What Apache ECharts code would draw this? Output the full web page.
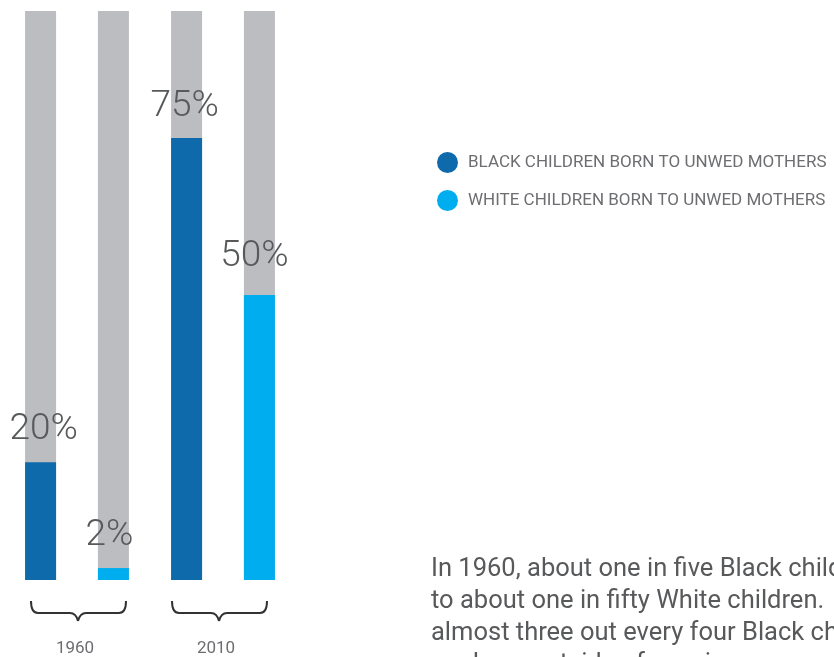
<!DOCTYPE html>
<html>
<head>
<meta charset="utf-8">
<script src="https://cdn.jsdelivr.net/npm/echarts@6/dist/echarts.min.js"></script>
<style>
  html, body { margin: 0; padding: 0; background: #ffffff; }
  #chart { width: 834px; height: 657px; }
</style>
</head>
<body>
<div id="chart"></div>
<script>
// ---- data ----
const years = ['1960', '2010'];
const seriesNames = ['BLACK CHILDREN BORN TO UNWED MOTHERS', 'WHITE CHILDREN BORN TO UNWED MOTHERS'];
const blackValues = [20.7, 77.7];   // bar heights as drawn (percent)
const whiteValues = [2.1, 50.1];
const blackLabels = ['20%', '75%'];
const whiteLabels = ['2%', '50%'];
const paragraphLines = [
  'In 1960, about one in five Black children were born to unwed mothers, compared',
  'to about one in fifty White children.  Today,',
  'almost three out every four Black children',
  'are born outside of marriage.'
];

// ---- style ----
const FONT = 'Roboto, "Noto Sans", sans-serif';
const DARK_BLUE = '#0e6aab';
const LIGHT_BLUE = '#00adee';
const GRAY = '#bcbdc1';
const TEXT = '#58595b';
const groupShift = [1, -4];                 // visual offset of braces / year labels
const blackLabelOffset = [[3, 0], [-2, 1]]; // label nudges [dx, dy]
const whiteLabelOffset = [[-4, 0], [-5, -6]];

const chart = echarts.init(document.getElementById('chart'), null, { renderer: 'canvas' });

function barSeries(name, values, labels, offsets, color) {
  return {
    name: name,
    type: 'bar',
    data: values.map((v, i) => ({ value: v, label: { offset: offsets[i] } })),
    barWidth: 31,
    barGap: '135%',
    showBackground: true,
    backgroundStyle: { color: GRAY },
    itemStyle: { color: color },
    label: {
      show: true,
      position: 'top',
      distance: 14,
      fontFamily: FONT,
      fontWeight: 300,
      fontSize: 37,
      color: TEXT,
      formatter: p => labels[p.dataIndex]
    },
    emphasis: { disabled: true }
  };
}

const option = {
  animation: false,
  backgroundColor: '#ffffff',
  grid: { left: 4, width: 292, top: 11, height: 569, containLabel: false },
  xAxis: {
    type: 'category',
    data: years,
    axisLine: { show: false },
    axisTick: { show: false },
    axisLabel: { show: false }
  },
  yAxis: {
    type: 'value',
    min: 0,
    max: 100,
    show: false
  },
  legend: {
    orient: 'vertical',
    left: 437,
    top: 152,
    padding: 0,
    itemWidth: 21,
    itemHeight: 21,
    itemGap: 17,
    icon: 'circle',
    selectedMode: false,
    textStyle: {
      fontFamily: FONT,
      fontSize: 17,
      color: '#6d6e71',
      padding: [0, 0, 0, 5]
    },
    data: seriesNames
  },
  series: [
    barSeries(seriesNames[0], blackValues, blackLabels, blackLabelOffset, DARK_BLUE),
    barSeries(seriesNames[1], whiteValues, whiteLabels, whiteLabelOffset, LIGHT_BLUE)
  ]
};

chart.setOption(option);

// braces and year labels, placed from the axis scale
const graphics = [];
const baseY = chart.convertToPixel({ yAxisIndex: 0 }, 0);
const braceStyle = { fill: null, stroke: '#333333', lineWidth: 2 };
years.forEach((y, i) => {
  const cx = chart.convertToPixel({ xAxisIndex: 0 }, y) + groupShift[i];
  const x0 = cx - 47, x1 = cx + 48;
  const top = baseY + 21, mid = baseY + 33, tip = baseY + 41;
  const parts = [
    { type: 'bezierCurve', shape: { x1: x0, y1: top, x2: x0 + 7, y2: mid, cpx1: x0, cpy1: mid } },
    { type: 'line', shape: { x1: x0 + 7, y1: mid, x2: cx - 8, y2: mid } },
    { type: 'bezierCurve', shape: { x1: cx - 8, y1: mid, x2: cx, y2: tip, cpx1: cx - 2, cpy1: mid } },
    { type: 'bezierCurve', shape: { x1: cx, y1: tip, x2: cx + 8, y2: mid, cpx1: cx + 2, cpy1: mid } },
    { type: 'line', shape: { x1: cx + 8, y1: mid, x2: x1 - 7, y2: mid } },
    { type: 'bezierCurve', shape: { x1: x1 - 7, y1: mid, x2: x1, y2: top, cpx1: x1, cpy1: mid } }
  ];
  parts.forEach(p => {
    p.style = braceStyle;
    p.silent = true;
    graphics.push(p);
  });
  graphics.push({
    type: 'text',
    x: cx - 3,
    y: baseY + 60,
    style: {
      text: y,
      fontFamily: FONT,
      fontSize: 17,
      fill: '#6d6e71',
      textAlign: 'center',
      textVerticalAlign: 'top'
    },
    silent: true
  });
});
graphics.push({
  type: 'text',
  x: 431,
  y: 554,
  style: {
    text: paragraphLines.join('\n'),
    fontFamily: FONT,
    fontSize: 25.5,
    lineHeight: 31.7,
    fill: TEXT,
    textAlign: 'left',
    textVerticalAlign: 'top'
  },
  silent: true
});
chart.setOption({ graphic: graphics });
</script>
</body>
</html>
